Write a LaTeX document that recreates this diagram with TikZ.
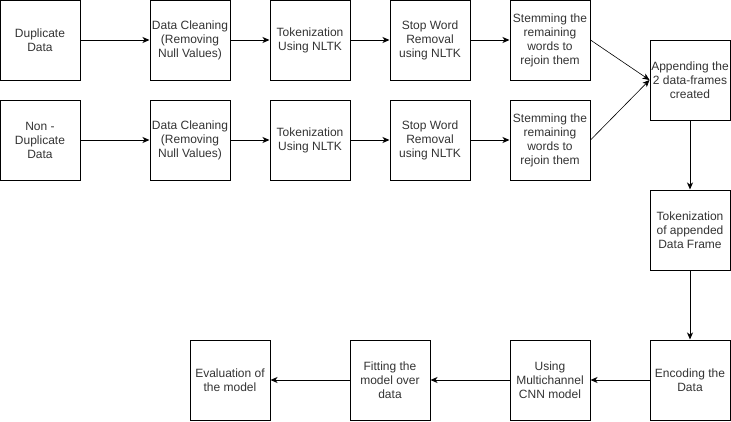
\documentclass[tikz,border=0pt]{standalone}
\usepackage{fontspec}
\setmainfont{Liberation Sans}
\usetikzlibrary{arrows.meta}
\begin{document}
\begin{tikzpicture}[x=1pt,y=-1pt,
  box/.style={draw=black,line width=1pt,minimum width=80pt,minimum height=80pt,inner sep=0pt,
    align=center,font=\fontsize{12pt}{14pt}\selectfont,text=black!80},
  arr/.style={line width=1pt,-{Stealth[length=7pt,width=6pt,inset=2pt]}},
  thinarr/.style={line width=0.6pt,-{Stealth[length=7pt,width=6pt,inset=2pt]}}]
\useasboundingbox (0,0) rectangle (731,421);
\node[box] (dup) at (40,40) {Duplicate\\Data};
\node[box] (dc1) at (190,40) {Data Cleaning\\(Removing\\Null Values)};
\node[box] (tk1) at (310,40) {Tokenization\\Using NLTK};
\node[box] (sw1) at (430,40) {Stop Word\\Removal\\using NLTK};
\node[box] (st1) at (550,40) {Stemming the\\remaining\\words to\\rejoin them};
\node[box] (ndup) at (40,140) {Non -\\Duplicate\\Data};
\node[box] (dc2) at (190,140) {Data Cleaning\\(Removing\\Null Values)};
\node[box] (tk2) at (310,140) {Tokenization\\Using NLTK};
\node[box] (sw2) at (430,140) {Stop Word\\Removal\\using NLTK};
\node[box] (st2) at (550,140) {Stemming the\\remaining\\words to\\rejoin them};
\node[box] (app) at (690,80) {Appending the\\2 data-frames\\created};
\node[box] (tka) at (690,230) {Tokenization\\of appended\\Data Frame};
\node[box] (enc) at (690,380) {Encoding the\\Data};
\node[box] (cnn) at (550,380) {Using\\Multichannel\\CNN model};
\node[box] (fit) at (390,380) {Fitting the\\model over\\data};
\node[box] (eva) at (230,380) {Evaluation of\\the model};
\draw[arr] (dup) -- (dc1);
\draw[arr] (dc1) -- (tk1);
\draw[arr] (tk1) -- (sw1);
\draw[arr] (sw1) -- (st1);
\draw[arr] (ndup) -- (dc2);
\draw[arr] (dc2) -- (tk2);
\draw[arr] (tk2) -- (sw2);
\draw[arr] (sw2) -- (st2);
\draw[thinarr] (st1.east) -- (app.west);
\draw[thinarr] (st2.east) -- (app.west);
\draw[arr] (app) -- (tka);
\draw[arr] (tka) -- (enc);
\draw[arr] (enc) -- (cnn);
\draw[arr] (cnn) -- (fit);
\draw[arr] (fit) -- (eva);
\end{tikzpicture}
\end{document}
